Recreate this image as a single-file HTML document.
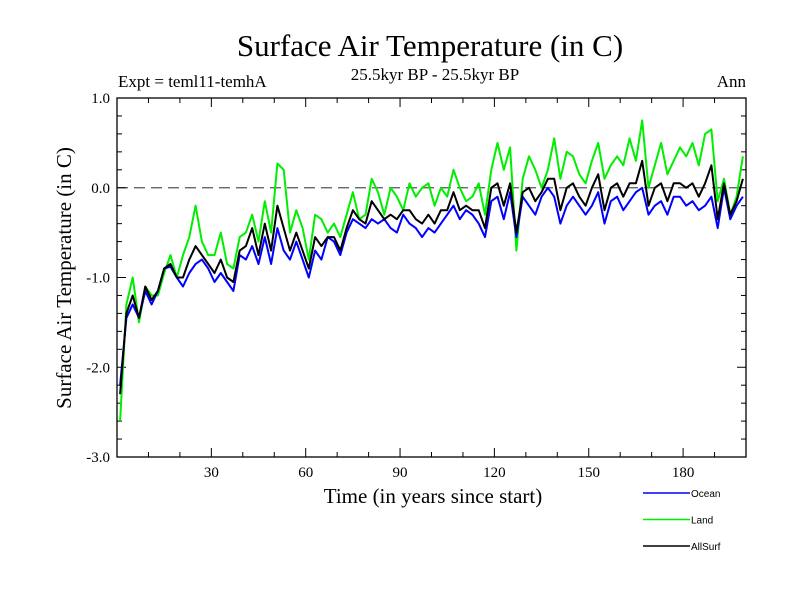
<!DOCTYPE html>
<html><head><meta charset="utf-8"><style>
body{margin:0;background:#fff;}
svg text{font-family:"Liberation Serif",serif;}
</style></head><body>
<svg id="chart" width="800" height="600" xmlns="http://www.w3.org/2000/svg">
<text x="430" y="56" font-size="31" text-anchor="middle">Surface Air Temperature (in C)</text>
<text x="435" y="80" font-size="17" text-anchor="middle">25.5kyr BP - 25.5kyr BP</text>
<text x="118" y="87" font-size="17">Expt = teml11-temhA</text>
<text x="746" y="87" font-size="17" text-anchor="end">Ann</text>
<text x="433" y="503" font-size="21" text-anchor="middle">Time (in years since start)</text>
<text x="0" y="0" font-size="21" text-anchor="middle" transform="translate(71,278) rotate(-90)">Surface Air Temperature (in C)</text>
<g id="axes"></g>
<g id="series"></g>
<g id="legend"></g>
</svg>
<script>
const years=[1,3,5,7,9,11,13,15,17,19,21,23,25,27,29,31,33,35,37,39,41,43,45,47,49,51,53,55,57,59,61,63,65,67,69,71,73,75,77,79,81,83,85,87,89,91,93,95,97,99,101,103,105,107,109,111,113,115,117,119,121,123,125,127,129,131,133,135,137,139,141,143,145,147,149,151,153,155,157,159,161,163,165,167,169,171,173,175,177,179,181,183,185,187,189,191,193,195,197,199];
const ocean=[-2.2,-1.45,-1.3,-1.45,-1.15,-1.3,-1.15,-0.9,-0.88,-1.0,-1.1,-0.95,-0.85,-0.8,-0.9,-1.05,-0.95,-1.05,-1.15,-0.75,-0.8,-0.65,-0.85,-0.55,-0.85,-0.45,-0.7,-0.8,-0.6,-0.8,-1.0,-0.7,-0.8,-0.55,-0.6,-0.75,-0.5,-0.35,-0.4,-0.45,-0.35,-0.4,-0.35,-0.45,-0.5,-0.3,-0.4,-0.45,-0.55,-0.45,-0.5,-0.4,-0.3,-0.2,-0.35,-0.25,-0.3,-0.4,-0.55,-0.15,-0.1,-0.35,-0.05,-0.55,-0.1,-0.2,-0.3,-0.1,0.0,-0.1,-0.4,-0.2,-0.1,-0.2,-0.3,-0.2,-0.05,-0.4,-0.15,-0.1,-0.25,-0.15,-0.05,0.0,-0.3,-0.2,-0.15,-0.3,-0.1,-0.1,-0.2,-0.15,-0.25,-0.2,-0.1,-0.45,0.0,-0.35,-0.2,-0.1];
const land=[-2.6,-1.3,-1.0,-1.5,-1.1,-1.2,-1.2,-0.95,-0.75,-1.0,-0.75,-0.55,-0.2,-0.6,-0.75,-0.75,-0.5,-0.85,-0.9,-0.55,-0.5,-0.3,-0.6,-0.15,-0.5,0.27,0.2,-0.5,-0.25,-0.45,-0.8,-0.3,-0.35,-0.5,-0.4,-0.55,-0.3,-0.05,-0.35,-0.3,0.1,-0.05,-0.3,0.0,-0.1,-0.25,0.05,-0.1,0.0,0.05,-0.2,0.0,-0.1,0.2,0.0,-0.15,-0.1,0.05,-0.3,0.2,0.5,0.2,0.45,-0.7,0.1,0.35,0.2,0.0,0.2,0.55,0.1,0.4,0.35,0.15,0.05,0.3,0.5,0.1,0.25,0.35,0.25,0.55,0.3,0.75,0.0,0.25,0.5,0.15,0.3,0.45,0.35,0.5,0.25,0.6,0.65,-0.15,0.1,-0.3,-0.1,0.35];
const allsurf=[-2.3,-1.4,-1.2,-1.45,-1.1,-1.25,-1.15,-0.9,-0.85,-1.0,-1.0,-0.8,-0.65,-0.75,-0.85,-0.95,-0.8,-1.0,-1.05,-0.7,-0.65,-0.45,-0.75,-0.4,-0.7,-0.2,-0.45,-0.7,-0.5,-0.7,-0.9,-0.55,-0.65,-0.55,-0.55,-0.7,-0.45,-0.25,-0.35,-0.4,-0.15,-0.25,-0.35,-0.3,-0.35,-0.25,-0.25,-0.35,-0.4,-0.3,-0.4,-0.25,-0.25,-0.05,-0.25,-0.2,-0.25,-0.25,-0.45,0.0,0.05,-0.2,0.05,-0.5,-0.05,0.0,-0.15,-0.05,0.1,0.1,-0.25,0.0,0.05,-0.1,-0.2,0.0,0.15,-0.25,0.0,0.05,-0.1,0.05,0.05,0.3,-0.2,0.0,0.05,-0.15,0.05,0.05,0.0,0.05,-0.1,0.05,0.25,-0.35,0.05,-0.3,-0.15,0.1];
const xTicks=[30,60,90,120,150,180];
const yTicks=[1.0,0.0,-1.0,-2.0,-3.0];
const yTickLabels=["1.0","0.0","-1.0","-2.0","-3.0"];
const seriesNames=["Ocean","Land","AllSurf"];
const NS="http://www.w3.org/2000/svg";
const L=117,R=746,T=98,B=457;
const X=v=>L+(v-0)/(200-0)*(R-L);
const Y=v=>T+(1-v)/(4)*(B-T);
function mk(tag,attrs,parent){const e=document.createElementNS(NS,tag);for(const k in attrs)e.setAttribute(k,attrs[k]);parent.appendChild(e);return e;}
const axes=document.getElementById('axes');
let f=mk('rect',{x:L,y:T,width:R-L,height:B-T,fill:'none',stroke:'#000','stroke-width':1.3},axes);


let z=mk('line',{x1:L,x2:R,y1:Y(0),y2:Y(0),stroke:'#555','stroke-width':1.3,'stroke-dasharray':'11,6'},axes);


for(let v=-3;v<=1.001;v+=0.2){const major=Math.abs(v-Math.round(v))<1e-6;const len=major?9:5;
 mk('line',{x1:L,x2:L+len,y1:Y(v),y2:Y(v),stroke:'#000'},axes);
 mk('line',{x1:R,x2:R-len,y1:Y(v),y2:Y(v),stroke:'#000'},axes);}
for(let v=10;v<200;v+=10){const major=v%30===0;const len=major?9:5;
 mk('line',{x1:X(v),x2:X(v),y1:B,y2:B-len,stroke:'#000'},axes);
 mk('line',{x1:X(v),x2:X(v),y1:T,y2:T+len,stroke:'#000'},axes);}
yTicks.forEach((v,i)=>{const t=mk('text',{x:L-7,y:Y(v)+5,'font-size':15,'text-anchor':'end'},axes);t.textContent=yTickLabels[i];
 
 });
xTicks.forEach(v=>{const t=mk('text',{x:X(v),y:B+20,'font-size':15,'text-anchor':'middle'},axes);t.textContent=String(v);
 
 });
const sg=document.getElementById('series');
const data=[ocean,land,allsurf];const cols=['#0000ff','#00ee00','#000000'];
[1,0,2].forEach(i=>{const d=data[i].map((v,j)=>(j?'L':'M')+X(years[j]).toFixed(1)+','+Y(v).toFixed(1)).join('');
 const p=mk('path',{d:d,fill:'none',stroke:cols[i],'stroke-width':2,'stroke-linejoin':'round'},sg);
 
 });
const lg=document.getElementById('legend');
seriesNames.forEach((n,i)=>{const y=493+i*26.5;
 const l=mk('line',{x1:643,x2:690,y1:y,y2:y,stroke:cols[i],'stroke-width':1.5},lg);
 
 
 const t=mk('text',{x:691,y:y+4,'font-size':10,'font-family':'Liberation Sans, sans-serif'},lg);t.textContent=n;
 t.style.fontFamily='"Liberation Sans",sans-serif';
 
 });
</script>
</body></html>
